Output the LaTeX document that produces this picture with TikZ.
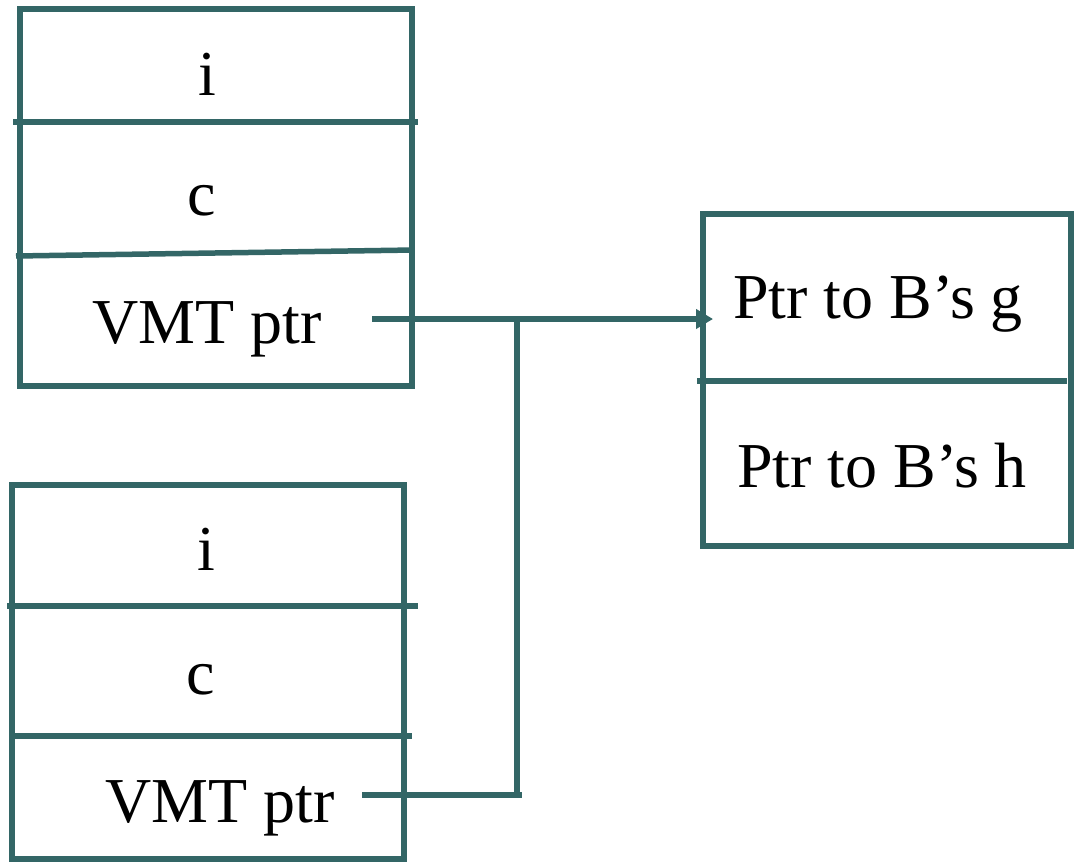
\documentclass[tikz,border=0pt]{standalone}
\usepackage{fontspec}
\setmainfont{Liberation Serif}
\usetikzlibrary{arrows.meta}
\definecolor{teal}{RGB}{51,102,102}
\begin{document}
\begin{tikzpicture}[x=1pt,y=-1pt,
  ln/.style={draw=teal,line width=5.5pt},
  lbl/.style={anchor=base,inner sep=0pt,font=\fontsize{64}{77}\selectfont},
  frame/.style={draw=teal,line width=5.5pt,inner sep=0pt,outer sep=0pt,anchor=north west}]
\useasboundingbox[fill=white] (0,0) rectangle (1074,862);
% top object
\node[frame,minimum width=392pt,minimum height=377pt] (objA) at (20,9) {};
\draw[ln] (13,122) -- (418,122);
\draw[ln] (16,256) -- (414,250);
\node[lbl] (aI) at (207,95) {i};
\node[lbl] (aC) at (202,215) {c};
\node[lbl] (aV) at (207,343) {VMT ptr};
% bottom object
\node[frame,minimum width=392pt,minimum height=374pt] (objB) at (12,485) {};
\draw[ln] (7,606) -- (418,606);
\draw[ln] (12,736) -- (412,736);
\node[lbl] (bI) at (206,570) {i};
\node[lbl] (bC) at (201,694) {c};
\node[lbl] (bV) at (220,822) {VMT ptr};
% VMT
\node[frame,minimum width=368pt,minimum height=332pt] (vmt) at (703,214) {};
\draw[ln] (697,381) -- (1067,381);
\node[lbl] (vG) at (878,318) {Ptr to B’s g};
\node[lbl] (vH) at (882,487) {Ptr to B’s h};
% connectors
\coordinate (sA) at (372,319);
\coordinate (sB) at (362,795);
\coordinate (j) at (517,317);
\coordinate (jB) at (517,795);
\coordinate (tip) at (713,319);
\draw[ln,-{Triangle[length=17pt,width=19pt]}] (sA) -- (tip);
\draw[ln] (j) -- (jB);
\draw[ln] (sB) -- ([xshift=5pt]jB);
\end{tikzpicture}
\end{document}
